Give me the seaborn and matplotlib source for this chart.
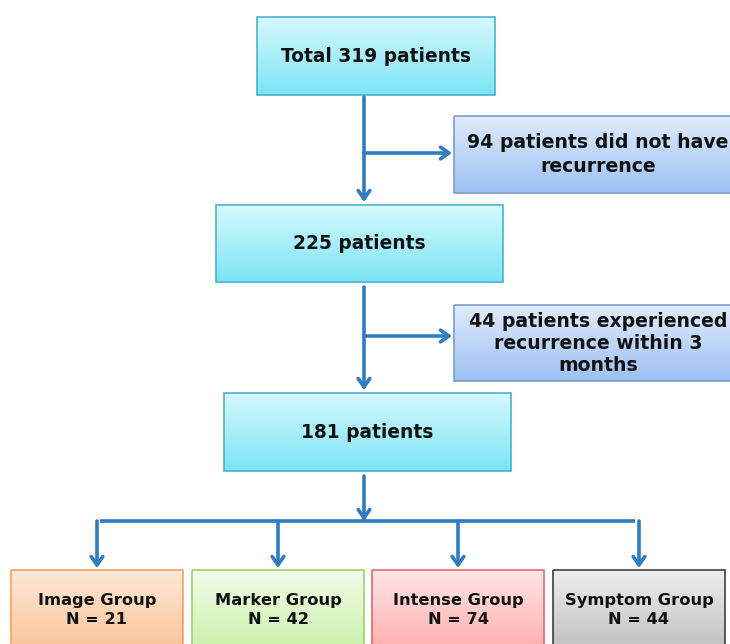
import numpy as np
import seaborn as sns
import matplotlib.pyplot as plt
from matplotlib.colors import to_rgb
from matplotlib.patches import Rectangle

# ============================
# Data
# ============================
total_patients = 319
excluded_counts = [94, 44]
excluded_labels = ["{} patients did not have\nrecurrence",
                   "{} patients experienced\nrecurrence within 3\nmonths"]
remaining_counts = [225, 181]
group_names = ["Image Group", "Marker Group", "Intense Group", "Symptom Group"]
group_counts = [21, 42, 74, 44]

# ============================
# Style
# ============================
sns.set_theme(style="white")
plt.rcParams['font.family'] = ['DejaVu Sans']

LINE = "#2f7cc0"
CYAN = ("#d6f9fd", "#7ce4f6", "#4bb3cc")
BLUE = ("#e0ebfc", "#9dc1f2", "#7b9ccf")
GROUP_COLORS = [("#fde8d8", "#fbc497", "#f7a35c"),
                ("#f3fcea", "#caf1ab", "#9ed36c"),
                ("#ffe6e6", "#ffaeae", "#e46a6a"),
                ("#eeeeee", "#c0c0c0", "#3f3f3f")]

fig = plt.figure(figsize=(7.30, 6.44), dpi=100)
ax = fig.add_axes([0, 0, 1, 1])
ax.set_xlim(0, 730)
ax.set_ylim(644, 0)
ax.axis("off")


def box(x0, y0, x1, y1, colors, text, fs=13.4, ls=1.3):
    top, bottom, edge = colors
    t = np.linspace(0, 1, 64)[:, None]
    grad = (1 - t) * np.array(to_rgb(top)) + t * np.array(to_rgb(bottom))
    ax.imshow(grad[:, None, :], extent=(x0, x1, y1, y0), aspect="auto",
              interpolation="bilinear", zorder=1)
    ax.add_patch(Rectangle((x0, y0), x1 - x0, y1 - y0, fill=False,
                           edgecolor=edge, lw=1.2, zorder=2))
    ax.text((x0 + x1) / 2, (y0 + y1) / 2, text, ha="center", va="center",
            fontsize=fs, fontweight="bold", color="#111111",
            linespacing=ls, zorder=3)


def arrow(x0, y0, x1, y1):
    ax.annotate("", xy=(x1, y1), xytext=(x0, y0),
                arrowprops=dict(arrowstyle="->,head_width=0.35,head_length=0.5",
                                color=LINE, lw=2.6, shrinkA=0, shrinkB=0),
                zorder=4)


def line(xs, ys):
    ax.plot(xs, ys, color=LINE, lw=2.6, solid_capstyle="butt", zorder=4)


# main column
box(257, 17, 495, 95, CYAN, f"Total {total_patients} patients")
box(216, 205, 503, 282, CYAN, f"{remaining_counts[0]} patients")
box(224, 393, 511, 471, CYAN, f"{remaining_counts[1]} patients")

# exclusions
box(454, 116, 742, 193, BLUE, excluded_labels[0].format(excluded_counts[0]),
    fs=13.6, ls=1.27)
box(454, 305, 742, 381, BLUE, excluded_labels[1].format(excluded_counts[1]),
    fs=13.6, ls=1.2)

arrow(364, 97, 364, 202)
arrow(364, 153, 452, 153)
arrow(364, 287, 364, 390)
arrow(364, 336, 452, 336)
arrow(364, 476, 364, 521)

# bottom groups
centers = [97, 278, 458, 639]
line([100, 635], [521, 521])
for i, (name, n) in enumerate(zip(group_names, group_counts)):
    cx = centers[i]
    arrow(cx, 521, cx, 568)
    box(cx - 86, 570, cx + 86, 650, GROUP_COLORS[i], f"{name}\nN = {n}",
        fs=11.7, ls=1.3)

fig.savefig("out.png", dpi=100)
